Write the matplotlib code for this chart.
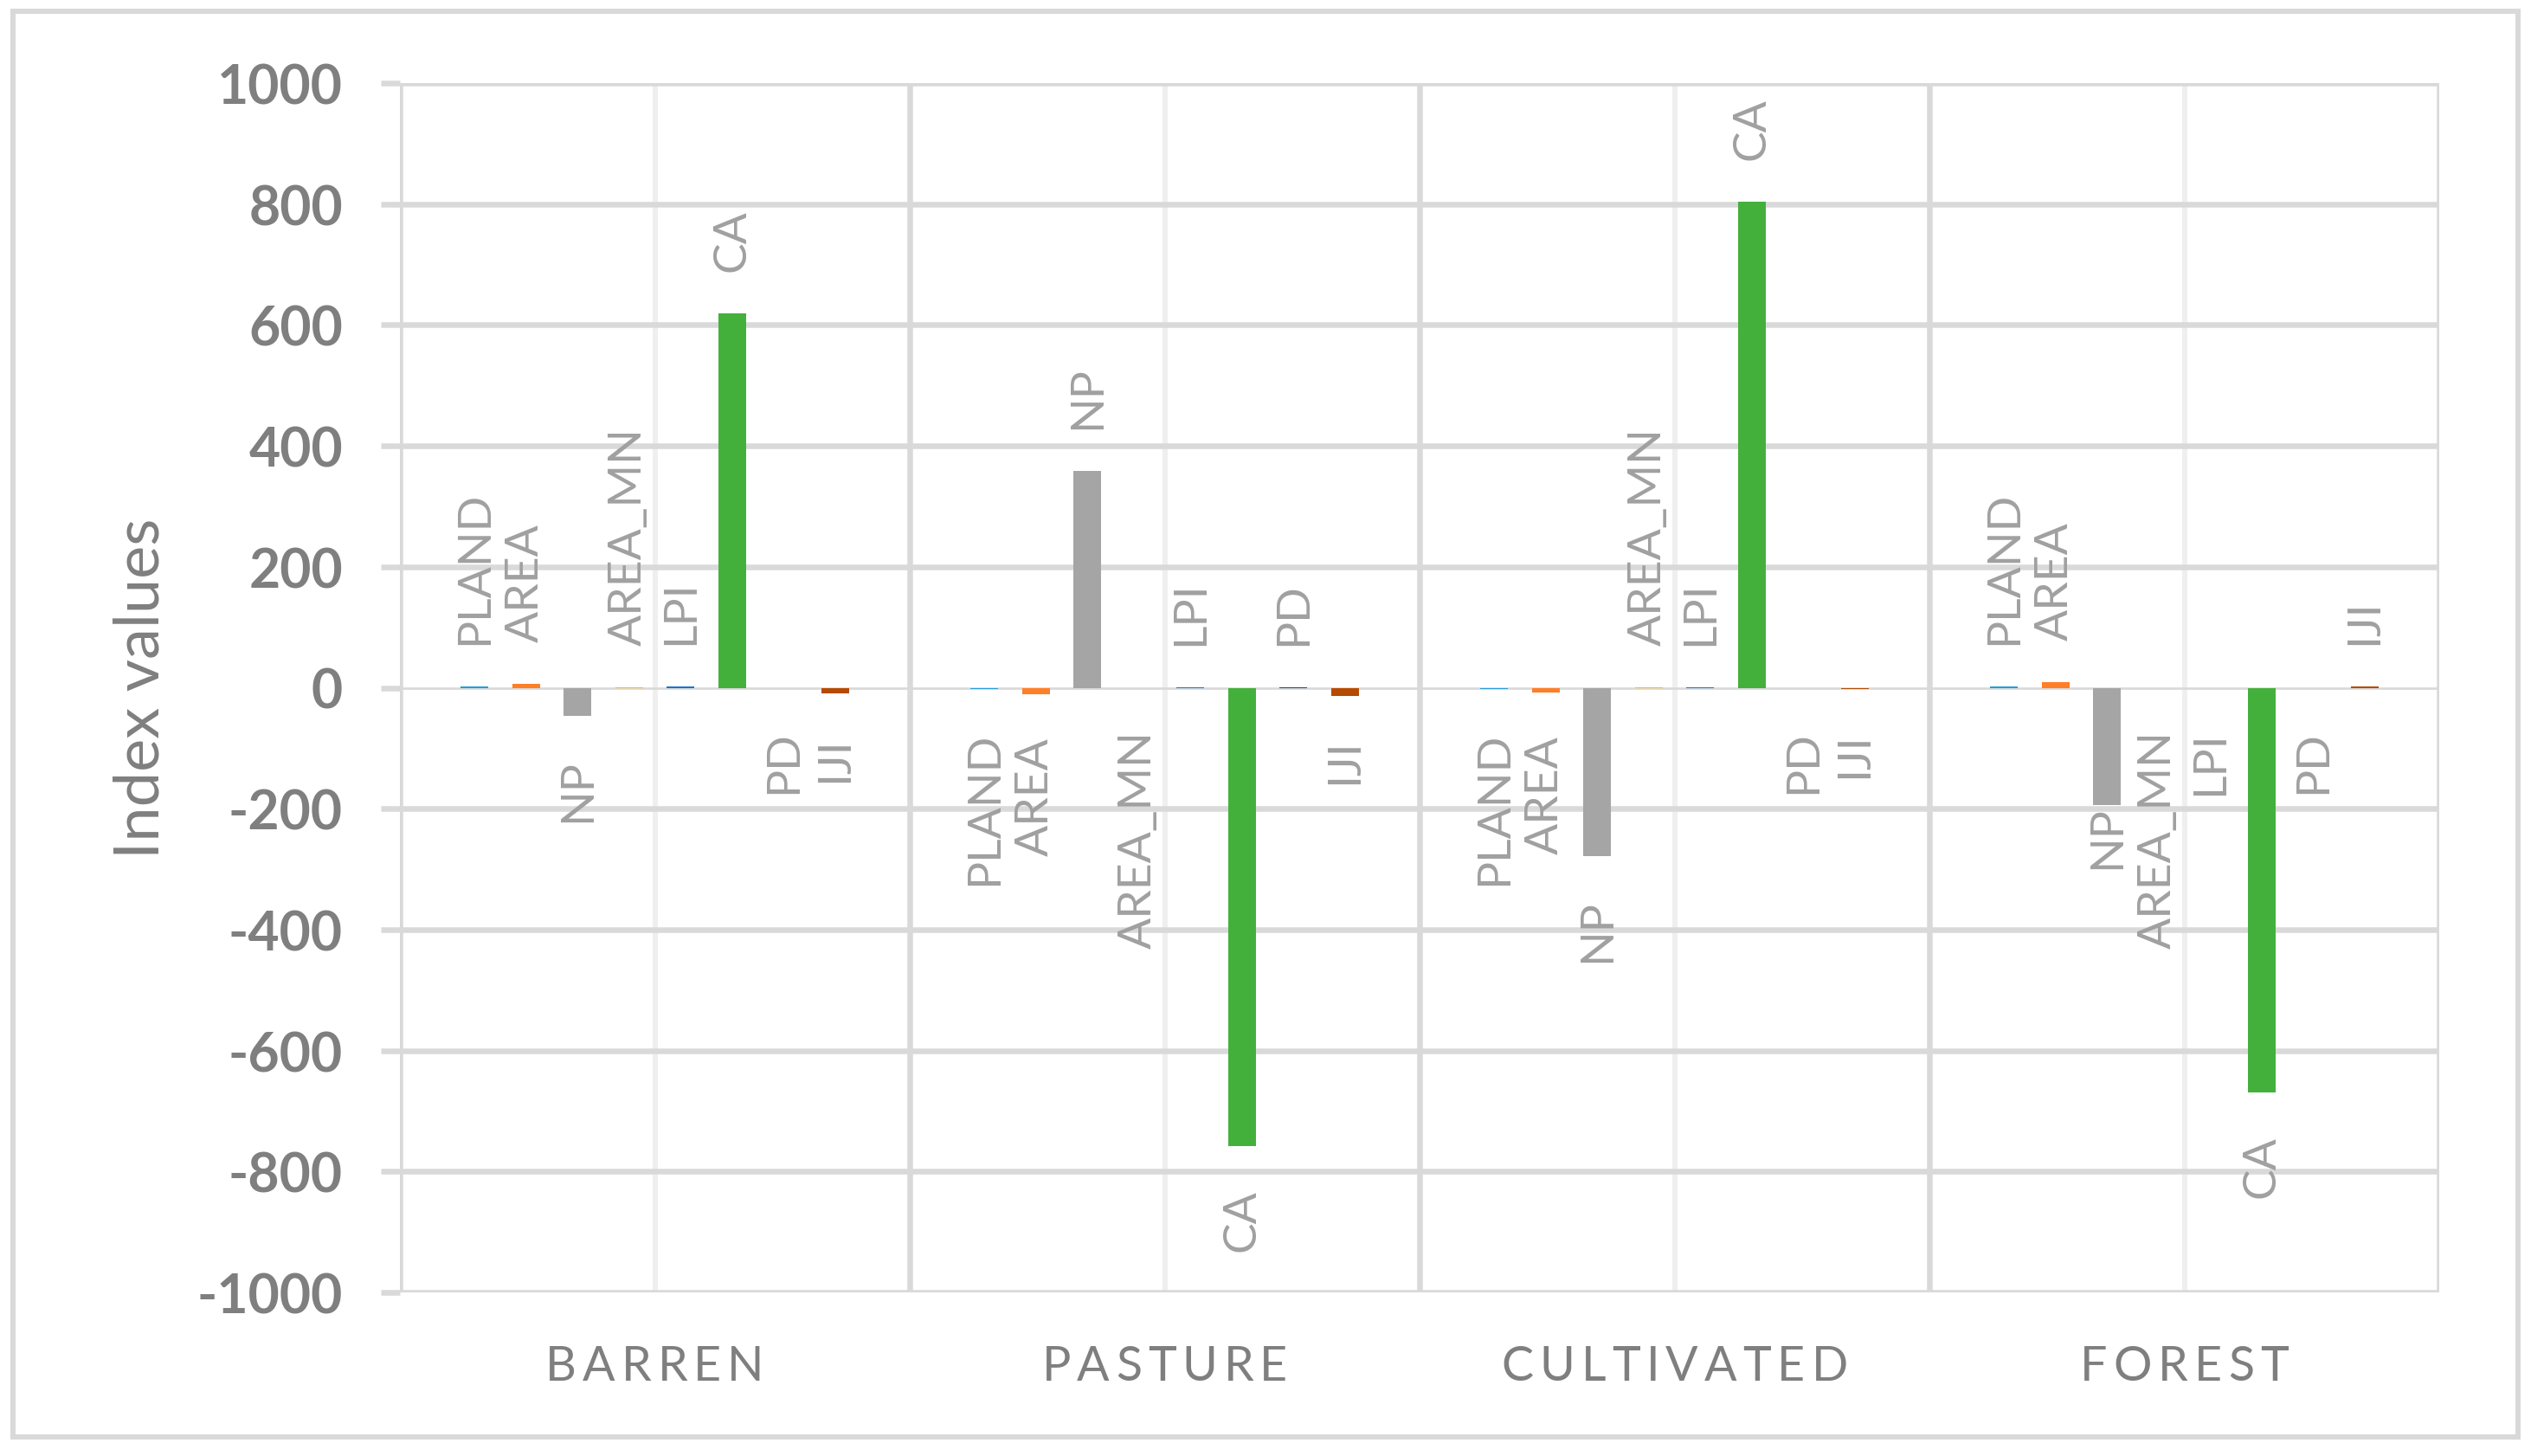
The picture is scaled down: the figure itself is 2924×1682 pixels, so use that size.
import matplotlib
matplotlib.use("Agg")
import matplotlib.pyplot as plt
from matplotlib.patches import Rectangle
from matplotlib.font_manager import FontProperties
import numpy as np

plt.rcParams['font.family'] = ['Lato', 'DejaVu Sans']
plt.rcParams['axes.unicode_minus'] = False

categories = ["BARREN", "PASTURE", "CULTIVATED", "FOREST"]
series_names = ["PLAND", "AREA", "NP", "AREA_MN", "LPI", "CA", "PD", "IJI"]
pland = [2, -2, -2, 2]
area = [7, -11, -8, 10]
np_vals = [-47, 358, -279, -194]
area_mn = [0.1, -0.1, 0.1, -0.1]
lpi = [2, 0.1, 0.1, -0.1]
ca = [619, -758, 804, -669]
pd_vals = [-0.1, 0.1, -0.1, -0.1]
iji = [-10, -13, -2, 2]
series_values = [pland, area, np_vals, area_mn, lpi, ca, pd_vals, iji]
colors = ["#1f9fe0", "#ff7f27", "#a5a5a5", "#ffc000", "#1a73d0", "#44b03c", "#264478", "#b64a00"]
yticks = [-1000, -800, -600, -400, -200, 0, 200, 400, 600, 800, 1000]
ytick_labels = ["-1000", "-800", "-600", "-400", "-200", "0", "200", "400", "600", "800", "1000"]

W, H = 2924, 1683
DPI = 100
fig = plt.figure(figsize=(W / DPI, H / DPI), dpi=DPI)
px = 72.0 / DPI  # points per pixel

left, right, top, bottom = 462, 2818, 97, 1494
ax = fig.add_axes([left / W, 1 - bottom / H, (right - left) / W, (bottom - top) / H])

grid_c = "#d9d9d9"
light_c = "#efefef"
text_c = "#7f7f7f"
label_c = "#a0a0a0"

ax.set_xlim(-0.5, 3.5)
ax.set_ylim(-1000, 1000)

# gridlines
for y in yticks:
    if y != 0:
        ax.axhline(y, color=grid_c, lw=6.5 * px, zorder=1)
ax.axhline(0, color=grid_c, lw=2.7 * px, zorder=1)
for xb in [0.5, 1.5, 2.5]:
    ax.axvline(xb, color=grid_c, lw=6.5 * px, zorder=1)
for xc in range(len(categories)):
    ax.axvline(xc, color=light_c, lw=6 * px, zorder=0.9)
ax.axvline(-0.5, color=grid_c, lw=6.5 * px, zorder=1)
ax.axvline(3.5, color=grid_c, lw=6.5 * px, zorder=1)

for s in ax.spines.values():
    s.set_visible(False)

step = 59.5 / 589.0
width = 32.0 / 589.0
x = np.arange(len(categories))
gap_pt = 49 * px
for i, (name, vals, col) in enumerate(zip(series_names, series_values, colors)):
    xs = x + (i - 3.5) * step
    ax.bar(xs, vals, width=width, color=col, zorder=3, linewidth=0)
    for j, (xi, v) in enumerate(zip(xs, vals)):
        g = gap_pt
        if name == "NP" and categories[j] == "FOREST":
            g = 0
        if v >= 0:
            ax.annotate(name, xy=(xi, v), xytext=(0, g), textcoords="offset points",
                        rotation=90, ha="center", va="bottom", fontsize=38.5, color=label_c, zorder=4)
        else:
            ax.annotate(name, xy=(xi, v), xytext=(0, -g), textcoords="offset points",
                        rotation=90, ha="center", va="top", fontsize=38.5, color=label_c, zorder=4)

ax.set_yticks(yticks)
ax.set_yticklabels(ytick_labels, fontsize=45, fontweight="bold", color=text_c)
ax.tick_params(axis="y", length=22 * px, width=6.5 * px, color=grid_c, pad=44 * px)
ax.set_xticks([])

# category labels with letter tracking
renderer = fig.canvas.get_renderer()
fp = FontProperties(family=['Lato', 'DejaVu Sans'], size=40)
tracking_px = 7.0
cat_y = 1 - 1580 / H
for xi, cat in zip(x, categories):
    widths = [renderer.get_text_width_height_descent(ch, fp, ismath=False)[0] for ch in cat]
    total = sum(widths) + tracking_px * (len(cat) - 1)
    cx = ax.transData.transform((xi, 0))[0]
    pos = cx - total / 2.0
    for ch, wch in zip(cat, widths):
        fig.text(pos / W, cat_y, ch, ha="left", va="center", fontproperties=fp, color=text_c)
        pos += wch + tracking_px

fig.text(163 / W, 1 - 795 / H, "Index values", rotation=90, ha="center", va="center",
         fontsize=52, color=text_c)

fig.patches.append(Rectangle((15 / W, 1 - 1661 / H), (2909 - 15) / W, (1661 - 14) / H,
                             transform=fig.transFigure, fill=False, edgecolor=grid_c,
                             lw=6 * px, zorder=0))

fig.savefig("out.png", dpi=DPI, facecolor="white")
